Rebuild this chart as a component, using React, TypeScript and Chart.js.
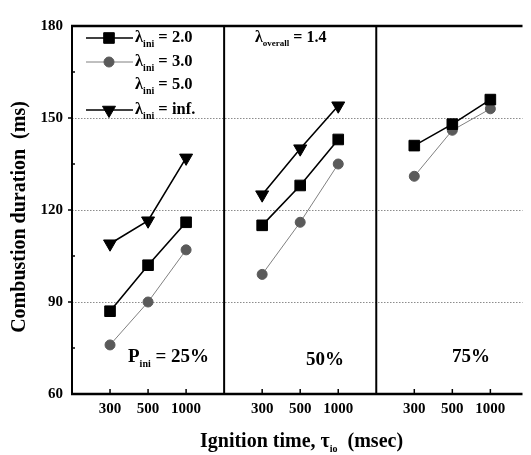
import React, { useEffect, useRef } from "react";
import { Chart, registerables } from "chart.js";
Chart.register(...registerables);

const ignitionTimes = ["300", "500", "1000"];
const panelLabels = ["25%", "50%", "75%"];
// values in panel order: 25% (300,500,1000), 50% (...), 75% (...)
const lambda20 = [87, 102, 116, 115, 128, 143, 141, 148, 156];
const lambda30 = [76, 90, 107, 99, 116, 135, 131, 146, 153];
const lambdaInf = [109, 116.5, 137, 125, 140, 154, null, null, null];
const yTickValues = [60, 90, 120, 150, 180];
const legendLabels = ["2.0", "3.0", "5.0", "inf."];

const SERIF = '"Liberation Serif", "DejaVu Serif", serif';

function toPoints(vals: (number | null)[]) {
  const pts: { x: number; y: number | null }[] = [];
  vals.forEach((v, i) => {
    const panel = Math.floor(i / 3);
    const slot = i % 3;
    pts.push({ x: panel * 4 + slot + 1, y: v });
    if (slot === 2) pts.push({ x: panel * 4 + 4, y: null });
  });
  return pts;
}

type Part = { t: string; sub?: boolean };
function drawRich(ctx: CanvasRenderingContext2D, x: number, y: number, parts: Part[], size: number, subScale = 0.58) {
  let cx = x;
  ctx.textAlign = "left";
  ctx.textBaseline = "middle";
  for (const p of parts) {
    if (p.sub) {
      ctx.font = `bold ${Math.round(size * subScale)}px ${SERIF}`;
      ctx.fillText(p.t, cx, y + size * 0.38);
    } else {
      ctx.font = `bold ${size}px ${SERIF}`;
      ctx.fillText(p.t, cx, y);
    }
    cx += ctx.measureText(p.t).width;
  }
  return cx;
}

function line(ctx: CanvasRenderingContext2D, x1: number, y1: number, x2: number, y2: number) {
  ctx.beginPath();
  ctx.moveTo(x1, y1);
  ctx.lineTo(x2, y2);
  ctx.stroke();
}

function marker(ctx: CanvasRenderingContext2D, style: string, r: number, x: number, y: number) {
  ctx.beginPath();
  if (style === "rect") {
    const s = Math.SQRT1_2 * r;
    ctx.rect(x - s, y - s, 2 * s, 2 * s);
  } else if (style === "circle") {
    ctx.arc(x, y, r, 0, Math.PI * 2);
  } else {
    // downward triangle, centroid at (x,y)
    const h = r * Math.sin(Math.PI / 3);
    ctx.moveTo(x, y + r);
    ctx.lineTo(x - h, y - r / 2);
    ctx.lineTo(x + h, y - r / 2);
    ctx.closePath();
  }
  ctx.fill();
  ctx.stroke();
}

const styles = [
  { color: "#000", lineColor: "#000", lineWidth: 1.6, pointStyle: "rect", radius: 7.5, rotation: 0 },
  { color: "#5a5a5a", lineColor: "#808080", lineWidth: 1, pointStyle: "circle", radius: 5, rotation: 0 },
  null,
  { color: "#000", lineColor: "#000", lineWidth: 1.6, pointStyle: "triangle", radius: 7.5, rotation: 180 },
];

const deco = {
  id: "deco",
  beforeDatasetsDraw(chart: any) {
    const { ctx, chartArea: a, scales } = chart;
    const y = scales.y;
    ctx.save();
    ctx.strokeStyle = "#8c8c8c";
    ctx.lineWidth = 1;
    ctx.setLineDash([1.5, 1.5]);
    [90, 120, 150].forEach((v) => {
      const py = Math.round(y.getPixelForValue(v)) + 0.5;
      line(ctx, a.left, py, a.right, py);
    });
    ctx.restore();
  },
  afterDraw(chart: any) {
    const { ctx, chartArea: a, scales } = chart;
    const x = scales.x;
    const y = scales.y;
    ctx.save();
    ctx.strokeStyle = "#000";
    ctx.fillStyle = "#000";
    // frame
    ctx.lineWidth = 2.5;
    line(ctx, a.left - 1, a.top, a.right, a.top);
    line(ctx, a.left - 1, a.bottom, a.right, a.bottom);
    ctx.lineWidth = 2;
    line(ctx, a.left, a.top, a.left, a.bottom);
    [4, 8].forEach((v) => {
      const px = x.getPixelForValue(v);
      line(ctx, px, a.top, px, a.bottom);
    });
    // y ticks
    ctx.lineWidth = 1.5;
    [90, 120, 150].forEach((v) => {
      const py = y.getPixelForValue(v);
      line(ctx, a.left - 4, py, a.left, py);
    });
    [75, 105, 135, 165].forEach((v) => {
      const py = y.getPixelForValue(v);
      line(ctx, a.left, py, a.left + 3, py);
    });
    // x ticks (inward)
    [1, 2, 3, 5, 6, 7, 9, 10, 11].forEach((v) => {
      const px = x.getPixelForValue(v);
      line(ctx, px, a.bottom, px, a.bottom - 5);
    });
    // legend
    const rowsY = [30, 54, 77, 102];
    const lx1 = 78, lx2 = 125, lmx = 101;
    legendLabels.forEach((lab, i) => {
      const st = styles[i];
      const ry = rowsY[i];
      if (st) {
        ctx.strokeStyle = st.lineColor;
        ctx.lineWidth = st.lineWidth;
        line(ctx, lx1, ry, lx2, ry);
        ctx.fillStyle = st.color;
        ctx.strokeStyle = st.color;
        ctx.lineWidth = 1;
        marker(ctx, st.pointStyle, st.radius, lmx, ry);
      }
      ctx.fillStyle = "#000";
      drawRich(ctx, 127, ry, [{ t: "\u03bb" }, { t: "ini", sub: true }, { t: " = " + lab }], 16.5);
    });
    // annotations
    ctx.fillStyle = "#000";
    drawRich(ctx, 247, 30, [{ t: "\u03bb" }, { t: "overall", sub: true }, { t: " = 1.4" }], 16, 0.55);
    drawRich(ctx, 120, 349, [{ t: "P" }, { t: "ini", sub: true }, { t: " = " + panelLabels[0] }], 19, 0.55);
    drawRich(ctx, 298, 352, [{ t: panelLabels[1] }], 19);
    drawRich(ctx, 444, 349, [{ t: panelLabels[2] }], 19);
    // axis titles
    drawRich(ctx, 192, 434, [{ t: "Ignition time, \u03c4" }, { t: "io", sub: true }, { t: "  (msec)" }], 20, 0.5);
    ctx.save();
    ctx.translate(12, 209);
    ctx.rotate(-Math.PI / 2);
    ctx.font = `bold 20px ${SERIF}`;
    ctx.textAlign = "center";
    ctx.textBaseline = "middle";
    ctx.fillText("Combustion duration  (ms)", 0, 0);
    ctx.restore();
    ctx.restore();
  },
};

export default function App() {
  const ref = useRef<HTMLCanvasElement>(null);
  useEffect(() => {
    if (!ref.current) return;
    const series = [lambda20, lambda30, null, lambdaInf];
    const datasets: any[] = [];
    series.forEach((vals, i) => {
      const st = styles[i];
      if (!vals || !st) return;
      datasets.push({
        label: "\u03bb ini = " + legendLabels[i],
        data: toPoints(vals),
        borderColor: st.lineColor,
        borderWidth: st.lineWidth,
        backgroundColor: st.color,
        pointBackgroundColor: st.color,
        pointBorderColor: st.color,
        pointBorderWidth: 1,
        pointStyle: st.pointStyle,
        pointRadius: st.radius,
        pointRotation: st.rotation,
        spanGaps: false,
        tension: 0,
        fill: false,
      });
    });
    const chart = new Chart(ref.current, {
      type: "line",
      data: { datasets },
      options: {
        responsive: false,
        animation: false,
        events: [],
        layout: { padding: { top: 8, right: 0, left: 0, bottom: 0 } },
        plugins: { legend: { display: false }, tooltip: { enabled: false } },
        scales: {
          x: {
            type: "linear",
            min: 0,
            max: 11.845,
            grid: { display: false, drawTicks: false },
            border: { display: false },
            afterFit: (s: any) => { s.height = 61; },
            afterBuildTicks: (s: any) => {
              s.ticks = [1, 2, 3, 5, 6, 7, 9, 10, 11].map((v) => ({ value: v }));
            },
            ticks: {
              autoSkip: false,
              maxRotation: 0,
              padding: 6,
              color: "#000",
              font: { family: SERIF, size: 15, weight: "bold" },
              callback: (v: any) => ignitionTimes[(Number(v) - 1) % 4],
            },
          },
          y: {
            min: 60,
            max: 180,
            grid: { display: false, drawTicks: false },
            border: { display: false },
            afterFit: (s: any) => { s.width = 64; },
            afterBuildTicks: (s: any) => {
              s.ticks = yTickValues.map((v) => ({ value: v }));
            },
            ticks: {
              padding: 9,
              color: "#000",
              font: { family: SERIF, size: 15, weight: "bold" },
            },
          },
        },
      },
      plugins: [deco],
    } as any);
    return () => chart.destroy();
  }, []);
  return <canvas ref={ref} width={523} height={447} style={{ display: "block" }} />;
}
